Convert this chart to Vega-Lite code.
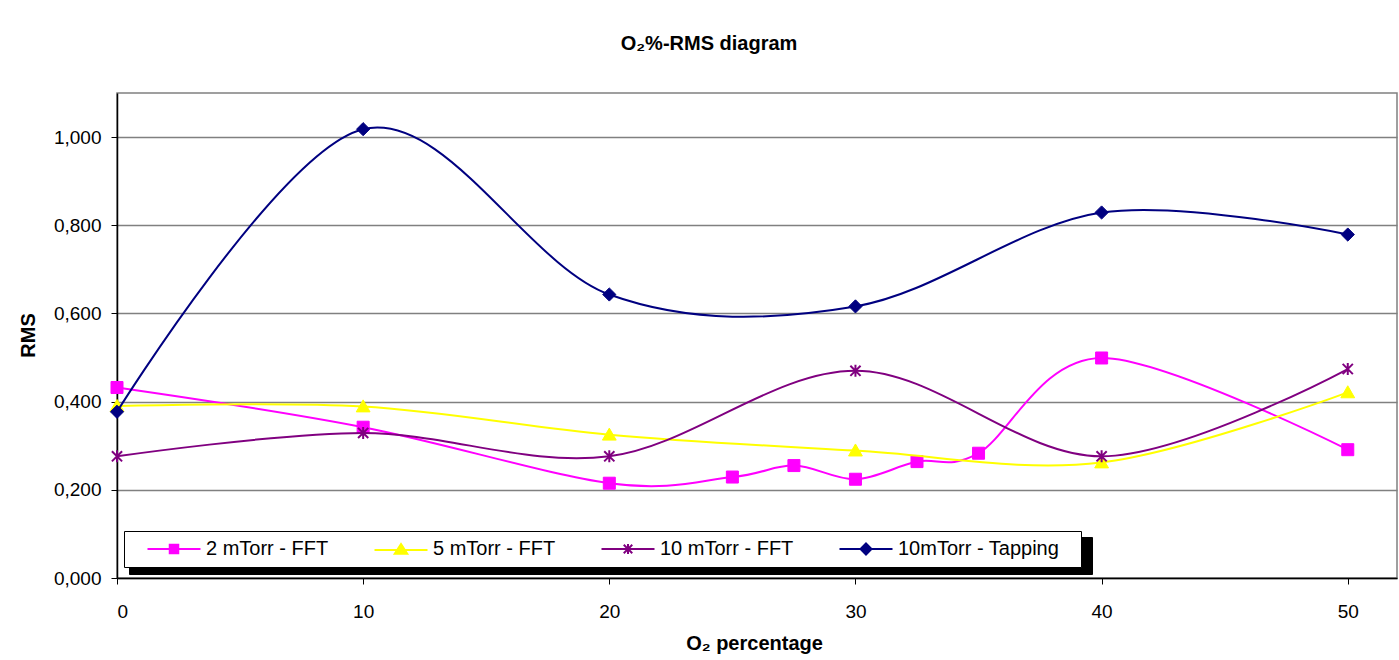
{
  "$schema": "https://vega.github.io/schema/vega-lite/v6.json",
  "width": 1280,
  "height": 485,
  "autosize": "none",
  "padding": {"left": 117, "top": 93, "right": 2, "bottom": 82},
  "background": "white",
  "config": {"view": {"stroke": "#808080", "strokeWidth": 1.5}, "font": "Liberation Sans"},
  "title": {"text": "O₂%-RMS diagram", "font": "Liberation Sans", "fontSize": 20, "fontWeight": "bold", "color": "black", "anchor": "middle", "dx": -48, "offset": 23, "baseline": "alphabetic"},
  "data": {"values": [
    {"series": "2 mTorr - FFT", "o2": 0, "rms": 0.432},
    {"series": "2 mTorr - FFT", "o2": 10, "rms": 0.342},
    {"series": "2 mTorr - FFT", "o2": 20, "rms": 0.215},
    {"series": "2 mTorr - FFT", "o2": 25, "rms": 0.229},
    {"series": "2 mTorr - FFT", "o2": 27.5, "rms": 0.255},
    {"series": "2 mTorr - FFT", "o2": 30, "rms": 0.224},
    {"series": "2 mTorr - FFT", "o2": 32.5, "rms": 0.264},
    {"series": "2 mTorr - FFT", "o2": 35, "rms": 0.283},
    {"series": "2 mTorr - FFT", "o2": 40, "rms": 0.499},
    {"series": "2 mTorr - FFT", "o2": 50, "rms": 0.291},
    {"series": "5 mTorr - FFT", "o2": 0, "rms": 0.390},
    {"series": "5 mTorr - FFT", "o2": 10, "rms": 0.389},
    {"series": "5 mTorr - FFT", "o2": 20, "rms": 0.325},
    {"series": "5 mTorr - FFT", "o2": 30, "rms": 0.289},
    {"series": "5 mTorr - FFT", "o2": 40, "rms": 0.262},
    {"series": "5 mTorr - FFT", "o2": 50, "rms": 0.421},
    {"series": "10 mTorr - FFT", "o2": 0, "rms": 0.276},
    {"series": "10 mTorr - FFT", "o2": 10, "rms": 0.329},
    {"series": "10 mTorr - FFT", "o2": 20, "rms": 0.276},
    {"series": "10 mTorr - FFT", "o2": 30, "rms": 0.470},
    {"series": "10 mTorr - FFT", "o2": 40, "rms": 0.276},
    {"series": "10 mTorr - FFT", "o2": 50, "rms": 0.474},
    {"series": "10mTorr - Tapping", "o2": 0, "rms": 0.377},
    {"series": "10mTorr - Tapping", "o2": 10, "rms": 1.018},
    {"series": "10mTorr - Tapping", "o2": 20, "rms": 0.643},
    {"series": "10mTorr - Tapping", "o2": 30, "rms": 0.616},
    {"series": "10mTorr - Tapping", "o2": 40, "rms": 0.829},
    {"series": "10mTorr - Tapping", "o2": 50, "rms": 0.779}
  ]},
  "encoding": {
    "x": {"field": "o2", "type": "quantitative", "scale": {"domain": [0, 52], "nice": false},
      "axis": {"values": [0, 10, 20, 30, 40, 50], "title": "O₂ percentage", "grid": false,
        "domainColor": "black", "domainWidth": 1.5, "tickColor": "black", "tickSize": 6, "tickWidth": 1,
        "labelFont": "Liberation Sans", "labelFontSize": 19, "labelColor": "black", "labelPadding": 18,
        "titleFont": "Liberation Sans", "titleFontSize": 20, "titleFontWeight": "bold", "titleColor": "black",
        "titleX": 637, "titleY": 71, "titleBaseline": "alphabetic", "titleAlign": "center"}},
    "y": {"field": "rms", "type": "quantitative", "scale": {"domain": [0, 1.1], "nice": false},
      "axis": {"values": [0, 0.2, 0.4, 0.6, 0.8, 1.0], "labelExpr": "replace(format(datum.value, '.3f'), '.', ',')",
        "grid": true, "gridColor": "#808080", "gridWidth": 1.5,
        "domainColor": "black", "domainWidth": 1.5, "tickColor": "black", "tickSize": 6, "tickWidth": 1,
        "labelFont": "Liberation Sans", "labelFontSize": 19, "labelColor": "black", "labelPadding": 10,
        "title": "RMS", "titleFont": "Liberation Sans", "titleFontSize": 20, "titleFontWeight": "bold", "titleColor": "black",
        "titleX": -89, "titleY": 242, "titleAngle": -90, "titleBaseline": "middle", "titleAlign": "center"}}
  },
  "layer": [
    {"transform": [{"filter": "datum.series === '2 mTorr - FFT'"}],
     "mark": {"type": "line", "interpolate": "cardinal", "color": "#FF00FF", "strokeWidth": 2,
       "point": {"shape": "M-1,-1H1V1H-1Z", "size": 144, "filled": true, "fill": "#FF00FF", "stroke": "#FF00FF", "strokeWidth": 1, "opacity": 1}}},
    {"transform": [{"filter": "datum.series === '5 mTorr - FFT'"}],
     "mark": {"type": "line", "interpolate": "cardinal", "color": "#FFFF00", "strokeWidth": 2,
       "point": {"shape": "M0,-1.1L1.15,0.9H-1.15Z", "size": 144, "filled": true, "fill": "#FFFF00", "stroke": "#FFFF00", "strokeWidth": 1, "opacity": 1}}},
    {"transform": [{"filter": "datum.series === '10 mTorr - FFT'"}],
     "mark": {"type": "line", "interpolate": "cardinal", "color": "#800080", "strokeWidth": 2,
       "point": {"shape": "M0,-1V1M-0.85,-0.85L0.85,0.85M-0.85,0.85L0.85,-0.85", "size": 144, "filled": false, "fill": null, "stroke": "#800080", "strokeWidth": 2, "opacity": 1}}},
    {"transform": [{"filter": "datum.series === '10mTorr - Tapping'"}],
     "mark": {"type": "line", "interpolate": "cardinal", "color": "#000080", "strokeWidth": 2,
       "point": {"shape": "M0,-1.1L1.1,0L0,1.1L-1.1,0Z", "size": 144, "filled": true, "fill": "#000080", "stroke": "#000080", "strokeWidth": 1, "opacity": 1}}},
    {"transform": [{"filter": "datum.rms < 0"}],
     "mark": {"type": "point", "filled": true, "size": 100, "strokeWidth": 2, "opacity": 1},
     "encoding": {
       "fill": {"field": "series", "type": "nominal",
         "scale": {"domain": ["2 mTorr - FFT", "5 mTorr - FFT", "10 mTorr - FFT", "10mTorr - Tapping"], "range": ["#FF00FF", "#FFFF00", "#800080", "#000080"]},
         "legend": {"title": null, "orient": "none", "legendX": 7, "legendY": 438, "direction": "horizontal", "columns": 4,
           "strokeColor": "black", "fillColor": "white", "padding": 8, "labelFont": "Liberation Sans", "labelFontSize": 20, "labelColor": "black",
           "symbolOffset": 32, "labelOffset": 22, "columnPadding": 30, "symbolSize": 100, "symbolStrokeWidth": 2, "symbolOpacity": 1, "labelLimit": 0, "zindex": 2}},
       "stroke": {"field": "series", "type": "nominal",
         "scale": {"domain": ["2 mTorr - FFT", "5 mTorr - FFT", "10 mTorr - FFT", "10mTorr - Tapping"], "range": ["#FF00FF", "#FFFF00", "#800080", "#000080"]},
         "legend": {"title": null, "orient": "none", "legendX": 7, "legendY": 438, "direction": "horizontal", "columns": 4,
           "strokeColor": "black", "fillColor": "white", "padding": 8, "labelFont": "Liberation Sans", "labelFontSize": 20, "labelColor": "black",
           "symbolOffset": 32, "labelOffset": 22, "columnPadding": 30, "symbolSize": 100, "symbolStrokeWidth": 2, "symbolOpacity": 1, "labelLimit": 0, "zindex": 2}},
       "shape": {"field": "series", "type": "nominal",
         "scale": {"domain": ["2 mTorr - FFT", "5 mTorr - FFT", "10 mTorr - FFT", "10mTorr - Tapping"],
           "range": ["M-7.2,0M-5.3,0H5.3M-0.85,-0.85H0.85V0.85H-0.85Z", "M-7.2,0M-5.3,0.2H5.3M0,-1L1.25,0.95H-1.25Z", "M-7.2,0M-5.3,0H5.3M0,-1V1M-0.85,-0.85L0.85,0.85M-0.85,0.85L0.85,-0.85", "M-7.2,0M40.6,0M-5.3,0H5.3M0,-1.1L1.1,0L0,1.1L-1.1,0Z"]},
         "legend": {"title": null, "orient": "none", "legendX": 7, "legendY": 438, "direction": "horizontal", "columns": 4,
           "strokeColor": "black", "fillColor": "white", "padding": 8, "labelFont": "Liberation Sans", "labelFontSize": 20, "labelColor": "black",
           "symbolOffset": 32, "labelOffset": 22, "columnPadding": 30, "symbolSize": 100, "symbolStrokeWidth": 2, "symbolOpacity": 1, "labelLimit": 0, "zindex": 2}},
       "opacity": {"field": "series", "type": "nominal",
         "scale": {"domain": ["10mTorr - Tapping", "10 mTorr - FFT", "5 mTorr - FFT", "2 mTorr - FFT"], "range": [1, 1, 1, 1]},
         "legend": {"title": null, "orient": "none", "legendX": 12, "legendY": 444, "direction": "horizontal", "columns": 4,
           "strokeColor": "black", "fillColor": "black", "padding": 10, "labelFontSize": 1, "labelExpr": "''",
           "symbolOffset": 0, "labelOffset": 0, "columnPadding": 0, "symbolSize": 100, "symbolStrokeWidth": 0, "labelLimit": 0, "zindex": 1,
           "symbolType": "M-26.62,-2.4M26.62,2.4", "symbolFillColor": "black", "symbolStrokeColor": "black"}}
     }}
  ]
}
